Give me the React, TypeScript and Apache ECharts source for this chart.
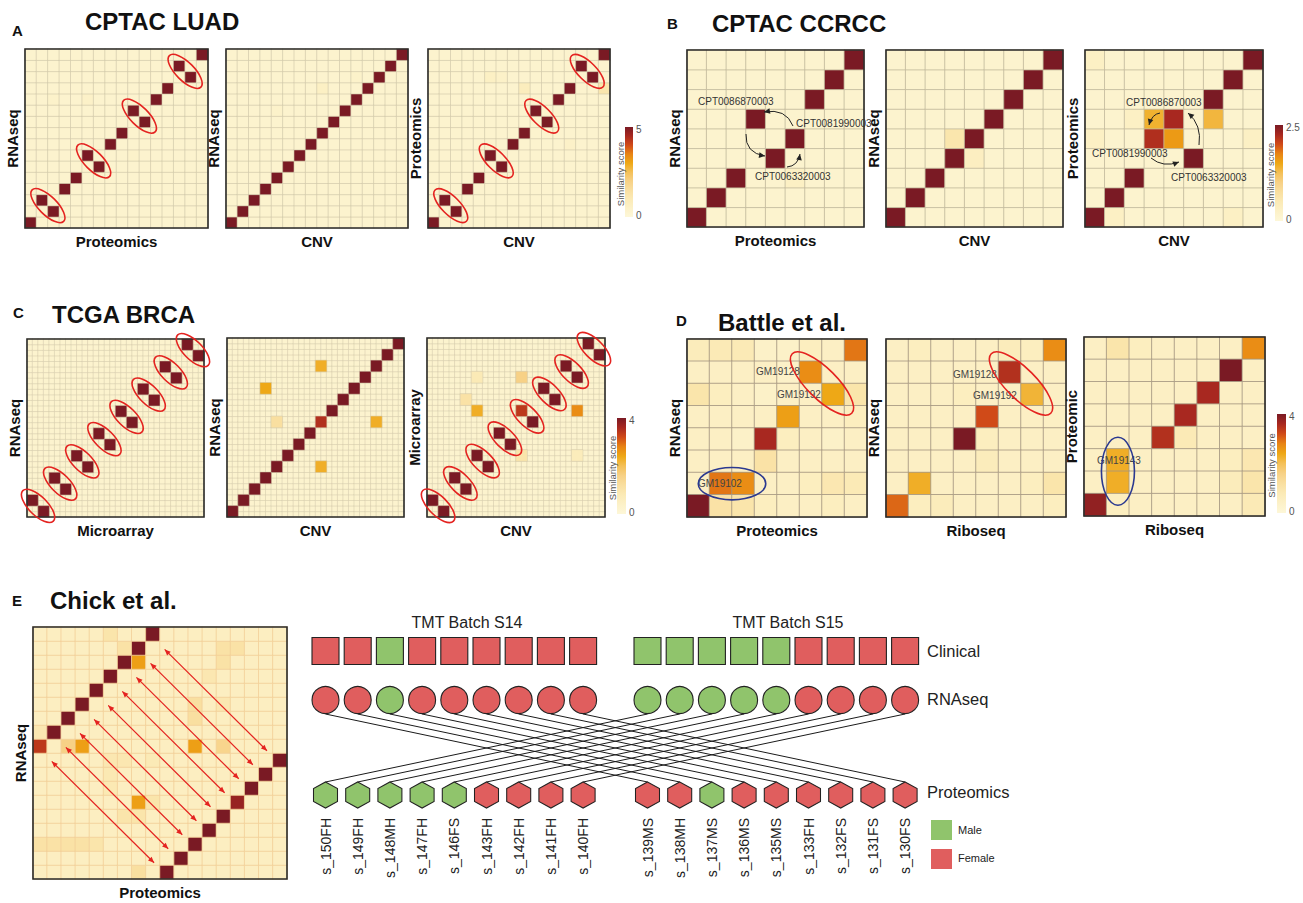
import React, { useEffect, useRef } from 'react';
import * as echarts from 'echarts';

const FONT = '"Liberation Sans", Arial, Helvetica, sans-serif';

// ---------- colour scale (low -> high similarity) ----------
const RAMP = ['#fdf7d8', '#fcf1c8', '#fbeab6', '#f9dfa0', '#f7d186', '#f4c058', '#eea816', '#e88414', '#d04a18', '#a82820', '#7a1a24'];

// ---------- Panel A: CPTAC LUAD (16 x 16, score 0..5) ----------
const A_MAX = 5;
const A_BG = 0.3;
const A1_DIAG = [0, 2, 1, 3, 4, 6, 5, 7, 8, 10, 9, 11, 12, 14, 13, 15];
const A2_DIAG = [0, 1, 2, 3, 4, 5, 6, 7, 8, 9, 10, 11, 12, 13, 14, 15];
const A3_DIAG = [0, 2, 1, 3, 4, 6, 5, 7, 8, 10, 9, 11, 12, 14, 13, 15];
const A1_EXTRA = [[5, 11, 0.5], [2, 11, 0.45], [9, 6, 0.45]];
const A2_EXTRA = [[8, 12, 0.6], [4, 10, 0.45], [11, 13, 0.45]];
const A3_EXTRA = [[15, 12, 1.2], [8, 12, 0.8], [5, 13, 0.6], [6, 13, 0.5], [12, 7, 0.5]];
const A_SWAPS = [1, 5, 9, 13];

// ---------- Panel B: CPTAC CCRCC (9 x 9, score 0..2.5) ----------
const B_MAX = 2.5;
const B_BG = 0.15;
const B1_DIAG = [0, 1, 2, 5, 3, 4, 6, 7, 8];
const B2_DIAG = [0, 1, 2, 3, 4, 5, 6, 7, 8];
const B3_DIAG = [0, 1, 2, 4, 5, 3, 6, 7, 8];
const B3_DIAG_VAL = [2.5, 2.5, 2.5, 2.2, 2.25, 2.5, 2.5, 2.5, 2.5];
const B1_EXTRA = [[5, 2, 0.3]];
const B2_EXTRA = [[3, 4, 0.6], [4, 3, 0.35]];
const B3_EXTRA = [[3, 5, 1.4], [4, 4, 1.6], [6, 5, 1.35], [0, 4, 0.3], [1, 0, 0.3], [2, 5, 0.3], [8, 4, 0.3], [7, 0, 0.3], [0, 8, 0.3]];

// ---------- Panel C: TCGA BRCA (16 x 16, score 0..4) ----------
const C_MAX = 4;
const C_BG = 0.25;
const C1_DIAG = [1, 0, 3, 2, 5, 4, 7, 6, 9, 8, 11, 10, 13, 12, 15, 14];
const C2_DIAG = [0, 1, 2, 3, 4, 5, 6, 7, 8, 9, 10, 11, 12, 13, 14, 15];
const C3_DIAG = [1, 0, 3, 2, 5, 4, 7, 6, 9, 8, 11, 10, 13, 12, 15, 14];
const C2_EXTRA = [[8, 13, 2.3], [3, 11, 2.4], [4, 8, 1.2], [8, 8, 3.5], [13, 8, 2.3], [8, 4, 2.3]];
const C3_EXTRA = [[4, 12, 0.8], [8, 12, 1.6], [3, 10, 1.1], [4, 9, 2.3], [8, 9, 3.4], [13, 9, 2.7], [8, 5, 1.0], [13, 5, 0.7]];
const C_SWAPS = [0, 2, 4, 6, 8, 10, 12, 14];

// ---------- Panel D: Battle et al. (8 x 8, score 0..4), rows listed top -> bottom ----------
const D_MAX = 4;
const D1_ROWS = [
  [0.7, 0.8, 0.8, 0.4, 0.4, 0.6, 0.5, 2.9],
  [0.5, 0.5, 0.5, 0.5, 0.4, 2.7, 0.5, 0.5],
  [1.0, 0.6, 0.5, 0.4, 0.5, 0.5, 2.4, 1.0],
  [0.5, 0.5, 0.5, 0.5, 2.5, 0.5, 0.5, 0.6],
  [0.5, 0.5, 0.4, 3.6, 0.6, 0.5, 0.4, 0.5],
  [0.5, 0.5, 0.5, 1.1, 0.5, 0.5, 0.5, 0.5],
  [0.5, 2.9, 2.7, 0.5, 0.5, 0.6, 0.9, 0.8],
  [4.0, 1.1, 1.0, 0.6, 0.5, 0.5, 0.6, 0.5],
];
const D2_ROWS = [
  [0.5, 0.6, 0.5, 0.5, 0.5, 0.7, 0.6, 2.7],
  [0.5, 0.5, 0.5, 0.5, 0.5, 3.5, 0.5, 0.5],
  [0.5, 0.5, 0.5, 0.6, 0.5, 0.5, 2.2, 0.5],
  [0.5, 0.5, 0.5, 0.5, 3.2, 0.5, 0.5, 0.5],
  [0.5, 0.5, 0.5, 4.0, 0.6, 0.5, 0.5, 0.5],
  [0.5, 0.5, 0.5, 0.5, 0.7, 0.5, 0.5, 0.5],
  [0.5, 2.3, 0.5, 0.5, 0.5, 0.5, 0.6, 1.0],
  [3.0, 0.6, 0.7, 0.5, 0.5, 0.5, 0.5, 0.6],
];
const D3_ROWS = [
  [0.5, 1.0, 0.6, 0.5, 0.5, 0.5, 0.5, 2.7],
  [0.5, 0.5, 0.5, 0.5, 0.5, 0.5, 4.0, 0.5],
  [0.5, 0.5, 0.5, 0.5, 0.5, 3.6, 0.5, 0.5],
  [0.5, 0.5, 0.5, 0.5, 3.6, 0.5, 0.5, 0.5],
  [0.5, 0.5, 0.5, 3.5, 0.8, 0.5, 0.5, 0.5],
  [0.5, 2.3, 0.5, 0.5, 0.5, 0.5, 0.6, 0.9],
  [0.5, 2.3, 0.5, 0.5, 0.5, 0.5, 0.7, 1.0],
  [3.8, 0.6, 0.5, 0.5, 0.5, 0.5, 0.5, 0.8],
];

// ---------- Panel E: Chick et al. (18 x 18, score 0..4) ----------
const E_MAX = 4;
const E_BG = 0.55;
const E_DIAG = [9, 10, 11, 12, 13, 14, 15, 16, 17, 0, 1, 2, 3, 4, 5, 6, 7, 8];
const E_DIAG_VAL = [3.4, 4, 4, 4, 4, 4, 4, 4, 4, 4, 4, 4, 4, 4, 3.75, 4, 4, 4];
const E_EXTRA = [
  [7, 15, 2.5], [3, 9, 2.5], [11, 9, 2.5], [2, 9, 1.6], [13, 9, 1.5], [7, 5, 2.5],
  [5, 17, 1.0], [6, 16, 1.1], [13, 16, 1.1], [14, 16, 1.1], [13, 15, 1.1], [11, 12, 1.2],
  [13, 12, 0.9], [11, 11, 1.2], [0, 10, 0.9], [5, 8, 0.9], [6, 8, 0.9], [5, 7, 0.85],
  [5, 6, 0.85], [8, 5, 1.0], [6, 4, 1.0], [7, 4, 1.0], [0, 2, 1.1], [1, 2, 1.1],
  [2, 2, 1.1], [3, 2, 1.1], [4, 2, 1.0], [7, 0, 1.2], [8, 8, 0.8], [12, 14, 0.9],
];

// ---------- Panel E: sample network ----------
const SAMPLES = ['s_150FH', 's_149FH', 's_148MH', 's_147FH', 's_146FS', 's_143FH', 's_142FH', 's_141FH', 's_140FH',
  's_139MS', 's_138MH', 's_137MS', 's_136MS', 's_135MS', 's_133FH', 's_132FS', 's_131FS', 's_130FS'];
const CLINICAL_SEX = ['F', 'F', 'M', 'F', 'F', 'F', 'F', 'F', 'F', 'M', 'M', 'M', 'M', 'M', 'F', 'F', 'F', 'F'];
const RNASEQ_SEX = ['F', 'F', 'M', 'F', 'F', 'F', 'F', 'F', 'F', 'M', 'M', 'M', 'M', 'M', 'F', 'F', 'F', 'F'];
const PROTEOMICS_SEX = ['M', 'M', 'M', 'M', 'M', 'F', 'F', 'F', 'F', 'F', 'F', 'M', 'F', 'F', 'F', 'F', 'F', 'F'];
const RNA_TO_PROT = [9, 10, 11, 12, 13, 14, 15, 16, 17, 0, 1, 2, 3, 4, 5, 6, 7, 8];
const BATCHES = ['TMT Batch S14', 'TMT Batch S15'];
const LAYERS = ['Clinical', 'RNAseq', 'Proteomics'];
const SEX_NAMES = ['Male', 'Female'];

// ---------- helpers ----------
type Cell = [number, number, number];
function buildSquare(n: number, bg: number, diag: number[], diagVal: number | number[], extras: number[][]): Cell[] {
  const m: number[][] = [];
  for (let c = 0; c < n; c++) { m.push([]); for (let r = 0; r < n; r++) m[c].push(bg); }
  diag.forEach((r, c) => { m[c][r] = Array.isArray(diagVal) ? diagVal[c] : diagVal; });
  extras.forEach(([c, r, v]) => { m[c][r] = v; });
  const out: Cell[] = [];
  for (let c = 0; c < n; c++) for (let r = 0; r < n; r++) out.push([c, r, m[c][r]]);
  return out;
}
function fromRowsTop(rows: number[][]): Cell[] {
  const n = rows.length;
  const out: Cell[] = [];
  rows.forEach((row, i) => row.forEach((v, c) => out.push([c, n - 1 - i, v])));
  return out;
}

interface Heat { g: [number, number, number, number]; n: number; data: Cell[]; vm: number; x: string; y: string; bc: string; bw: number; fineBg?: number; }

const HEAT: Heat[] = [
  { g: [25, 49, 183, 179], n: 16, data: buildSquare(16, A_BG, A1_DIAG, A_MAX, A1_EXTRA), vm: 0, x: 'Proteomics', y: 'RNAseq', bc: '#cfc6a8', bw: 0.6 },
  { g: [226, 49, 182, 179], n: 16, data: buildSquare(16, A_BG, A2_DIAG, A_MAX, A2_EXTRA), vm: 0, x: 'CNV', y: 'RNAseq', bc: '#cfc6a8', bw: 0.6 },
  { g: [428, 49, 182, 179], n: 16, data: buildSquare(16, A_BG, A3_DIAG, A_MAX, A3_EXTRA), vm: 0, x: 'CNV', y: 'Proteomics', bc: '#cfc6a8', bw: 0.6 },
  { g: [687, 50, 177, 177], n: 9, data: buildSquare(9, B_BG, B1_DIAG, B_MAX, B1_EXTRA), vm: 1, x: 'Proteomics', y: 'RNAseq', bc: '#c2b99c', bw: 0.8 },
  { g: [886, 50, 177, 177], n: 9, data: buildSquare(9, B_BG, B2_DIAG, B_MAX, B2_EXTRA), vm: 1, x: 'CNV', y: 'RNAseq', bc: '#c2b99c', bw: 0.8 },
  { g: [1085, 50, 178, 177], n: 9, data: buildSquare(9, B_BG, B3_DIAG, B3_DIAG_VAL, B3_EXTRA), vm: 1, x: 'CNV', y: 'Proteomics', bc: '#c2b99c', bw: 0.8 },
  { g: [27, 339, 177, 178], n: 16, data: buildSquare(16, C_BG, C1_DIAG, C_MAX, []), vm: 2, x: 'Microarray', y: 'RNAseq', bc: '#d2c9ab', bw: 0.5, fineBg: C_BG },
  { g: [227, 338, 177, 179], n: 16, data: buildSquare(16, C_BG, C2_DIAG, C_MAX, C2_EXTRA), vm: 2, x: 'CNV', y: 'RNAseq', bc: '#d2c9ab', bw: 0.5, fineBg: C_BG },
  { g: [427, 338, 178, 179], n: 16, data: buildSquare(16, C_BG, C3_DIAG, C_MAX, C3_EXTRA), vm: 2, x: 'CNV', y: 'Microarray', bc: '#d2c9ab', bw: 0.5, fineBg: C_BG },
  { g: [687, 339, 180, 178], n: 8, data: fromRowsTop(D1_ROWS), vm: 3, x: 'Proteomics', y: 'RNAseq', bc: '#a39680', bw: 0.8 },
  { g: [886, 339, 180, 178], n: 8, data: fromRowsTop(D2_ROWS), vm: 3, x: 'Riboseq', y: 'RNAseq', bc: '#a39680', bw: 0.8 },
  { g: [1084, 337, 181, 179], n: 8, data: fromRowsTop(D3_ROWS), vm: 3, x: 'Riboseq', y: 'Proteomic', bc: '#a39680', bw: 0.8 },
  { g: [33, 627, 254, 252], n: 18, data: buildSquare(18, E_BG, E_DIAG, E_DIAG_VAL, E_EXTRA), vm: 4, x: 'Proteomics', y: 'RNAseq', bc: '#f2cf98', bw: 0.8 },
];
const VM_MAX = [A_MAX, B_MAX, C_MAX, D_MAX, E_MAX];

const cellPt = (p: Heat, c: number, r: number) => ({
  x: p.g[0] + (c + 0.5) * p.g[2] / p.n,
  y: p.g[1] + p.g[3] - (r + 0.5) * p.g[3] / p.n,
});
const cw = (p: Heat) => p.g[2] / p.n;
const cats = (n: number) => Array.from({ length: n }, (_, k) => String(k));

function text(x: number, y: number, t: string, size: number, opts: any = {}) {
  return {
    type: 'text', x, y, rotation: opts.rot || 0, z: 120,
    style: {
      text: t, fontSize: size, fontFamily: FONT, fontWeight: opts.bold ? 'bold' : 'normal',
      fill: opts.color || '#111', align: opts.align || 'center', verticalAlign: 'middle',
    },
  };
}
function head(x: number, y: number, ang: number, color: string, len = 6, half = 2.6) {
  const bx = x - len * Math.cos(ang), by = y - len * Math.sin(ang);
  const nx = -Math.sin(ang) * half, ny = Math.cos(ang) * half;
  return { type: 'polygon', z: 121, shape: { points: [[x, y], [bx + nx, by + ny], [bx - nx, by - ny]] }, style: { fill: color } };
}
function curveArrow(x1: number, y1: number, cx: number, cy: number, x2: number, y2: number) {
  return [
    { type: 'bezierCurve', z: 121, shape: { x1, y1, x2, y2, cpx1: cx, cpy1: cy }, style: { stroke: '#222', lineWidth: 1, fill: 'none' } },
    head(x2, y2, Math.atan2(y2 - cy, x2 - cx), '#222', 6, 2.8),
  ];
}
function ellipse(x: number, y: number, rx: number, ry: number, rot: number, color: string) {
  return { type: 'ellipse', x, y, rotation: rot, z: 122, shape: { cx: 0, cy: 0, rx, ry }, style: { fill: 'none', stroke: color, lineWidth: 1.6 } };
}
function colorbar(x: number, y: number, w: number, h: number, top: string, tx: number) {
  const stops = RAMP.map((c, i) => ({ offset: 1 - i / (RAMP.length - 1), color: c }));
  return [
    { type: 'rect', z: 110, shape: { x, y, width: w, height: h }, style: { fill: new echarts.graphic.LinearGradient(0, 0, 0, 1, stops.reverse()) } },
    text(x + w + 3, y + 2, top, 10, { align: 'left', color: '#555' }),
    text(x + w + 3, y + h - 2, '0', 10, { align: 'left', color: '#555' }),
    text(tx, y + h / 2 + 2, 'Similarity score', 9.5, { rot: Math.PI / 2, color: '#555' }),
  ];
}

function buildOption() {
  const grids: any[] = [];
  const xAxis: any[] = [];
  const yAxis: any[] = [];
  const series: any[] = [];
  const vmSeries: number[][] = VM_MAX.map(() => []);

  HEAT.forEach(p => {
    const gi = grids.length;
    grids.push({ left: p.g[0], top: p.g[1], width: p.g[2], height: p.g[3], show: false });
    xAxis.push({ type: 'category', gridIndex: gi, data: cats(p.n), show: false });
    yAxis.push({ type: 'category', gridIndex: gi, data: cats(p.n), show: false });
    let data = p.data;
    if (p.fineBg !== undefined) {
      // finer background mesh (half-cell grid lines) drawn beneath the score cells
      const fi = grids.length;
      const m = p.n * 2;
      grids.push({ left: p.g[0], top: p.g[1], width: p.g[2], height: p.g[3], show: false });
      xAxis.push({ type: 'category', gridIndex: fi, data: cats(m), show: false });
      yAxis.push({ type: 'category', gridIndex: fi, data: cats(m), show: false });
      const bgData: Cell[] = [];
      for (let c = 0; c < m; c++) for (let r = 0; r < m; r++) bgData.push([c, r, p.fineBg]);
      vmSeries[p.vm].push(series.length);
      series.push({
        type: 'heatmap', xAxisIndex: fi, yAxisIndex: fi, data: bgData, silent: true, z: 1,
        itemStyle: { borderColor: p.bc, borderWidth: p.bw }, emphasis: { disabled: true },
      });
      data = p.data.filter(d => d[2] !== p.fineBg);
    }
    vmSeries[p.vm].push(series.length);
    series.push({
      type: 'heatmap', xAxisIndex: gi, yAxisIndex: gi, data, silent: true, z: 2,
      itemStyle: { borderColor: p.bc, borderWidth: p.bw }, emphasis: { disabled: true },
    });
  });
  const visualMap = VM_MAX.map((max, k) => ({
    type: 'continuous', show: false, min: 0, max, inRange: { color: RAMP }, seriesIndex: vmSeries[k],
  }));

  // ---- network (panel E right) ----
  const NG = grids.length;
  const catsNet = [...SAMPLES.slice(0, 9), '', ...SAMPLES.slice(9)];
  const catOf = (k: number) => (k < 9 ? k : k + 1);
  const LEVEL = [21, 70, 165];
  const sexColor = (s: string) => (s === 'M' ? '#90c46c' : '#e05e5e');
  grids.push({ left: 309.4, top: 630, width: 611.8, height: 182, show: false });
  xAxis.push({
    type: 'category', gridIndex: NG, data: catsNet, boundaryGap: true,
    axisLine: { show: false }, axisTick: { show: false }, splitLine: { show: false },
    axisLabel: { rotate: 90, interval: 0, fontSize: 14, color: '#222', margin: 6, fontFamily: FONT },
  });
  yAxis.push({ type: 'value', gridIndex: NG, min: 0, max: 182, inverse: true, show: false });
  series.push({
    type: 'lines', coordinateSystem: 'cartesian2d', xAxisIndex: NG, yAxisIndex: NG, z: 3, silent: true,
    lineStyle: { color: '#1a1a1a', width: 1, opacity: 1 },
    data: RNA_TO_PROT.map((pj, ri) => ({ coords: [[catOf(ri), LEVEL[1] + 14], [catOf(pj), LEVEL[2] - 13]] })),
  });
  const node = (sexes: string[], lvl: number, symbol: string, size: any) => ({
    type: 'scatter', xAxisIndex: NG, yAxisIndex: NG, symbol, symbolSize: size, z: 4, silent: true,
    itemStyle: { borderColor: '#222', borderWidth: 1.1, opacity: 1 },
    data: sexes.map((s, k) => ({ value: [catOf(k), LEVEL[lvl]], itemStyle: { color: sexColor(s) } })),
  });
  series.push(node(CLINICAL_SEX, 0, 'rect', 27));
  series.push(node(RNASEQ_SEX, 1, 'circle', 27));
  series.push(node(PROTEOMICS_SEX, 2, 'path://M12,0 L24,6.5 L24,19.5 L12,26 L0,19.5 L0,6.5 Z', [24, 26]));

  // ---- graphics ----
  const g: any[] = [];
  HEAT.forEach(p => {
    const [l, t, w, h] = p.g;
    g.push({ type: 'rect', z: 115, shape: { x: l, y: t, width: w, height: h }, style: { fill: 'none', stroke: '#2a2a2a', lineWidth: 1.6 } });
    g.push(text(l + w / 2, t + h + 13, p.x, 15, { bold: true }));
    g.push(text(l - 13, t + h / 2, p.y, 15, { bold: true, rot: Math.PI / 2 }));
  });
  const titles: [string, number, number, string, number, number][] = [
    ['A', 12, 30, 'CPTAC LUAD', 85, 21],
    ['B', 667, 23, 'CPTAC CCRCC', 712, 23],
    ['C', 13, 312, 'TCGA BRCA', 52, 314],
    ['D', 676, 320, 'Battle et al.', 718, 322],
    ['E', 12, 600, 'Chick et al.', 50, 600],
  ];
  titles.forEach(([L, lx, ly, T, tx, ty]) => {
    g.push(text(lx, ly, L, 15, { bold: true, align: 'left' }));
    g.push(text(tx, ty, T, 24, { bold: true, align: 'left' }));
  });
  g.push(...colorbar(625, 127, 8, 90, '5', 620));
  g.push(...colorbar(1275, 125, 8, 96, '2.5', 1270));
  g.push(...colorbar(617, 418, 9, 96, '4', 612));
  g.push(...colorbar(1277, 414, 9, 99, '4', 1271));

  const pairEllipses = (p: Heat, diag: number[], starts: number[], a: number, b: number) => {
    starts.forEach(c => {
      const p1 = cellPt(p, c, diag[c]);
      const p2 = cellPt(p, c + 1, diag[c + 1]);
      g.push(ellipse((p1.x + p2.x) / 2, (p1.y + p2.y) / 2, a * cw(p), b * cw(p), -Math.PI / 4, '#e42320'));
    });
  };
  pairEllipses(HEAT[0], A1_DIAG, A_SWAPS, 1.95, 0.8);
  pairEllipses(HEAT[2], A3_DIAG, A_SWAPS, 1.95, 0.8);
  pairEllipses(HEAT[6], C1_DIAG, C_SWAPS, 1.95, 0.85);
  pairEllipses(HEAT[8], C3_DIAG, C_SWAPS, 1.95, 0.85);

  g.push(text(698, 101.5, 'CPT0086870003', 10, { align: 'left', color: '#333' }));
  g.push(text(796, 123, 'CPT0081990003', 10, { align: 'left', color: '#333' }));
  g.push(text(755, 176, 'CPT0063320003', 10, { align: 'left', color: '#333' }));
  g.push(...curveArrow(793, 126, 786, 108, 764, 112));
  g.push(...curveArrow(746, 134, 745, 153, 765, 156));
  g.push(...curveArrow(787, 167, 798, 166, 800, 154));
  g.push(text(1126, 102, 'CPT0086870003', 10, { align: 'left', color: '#333' }));
  g.push(text(1092, 153, 'CPT0081990003', 10, { align: 'left', color: '#333' }));
  g.push(text(1171, 177, 'CPT0063320003', 10, { align: 'left', color: '#333' }));
  g.push(...curveArrow(1160, 113, 1152, 114, 1149, 125));
  g.push(...curveArrow(1199, 145, 1202, 125, 1188, 113));
  g.push(...curveArrow(1151, 158, 1163, 168, 1179, 162));

  const D1 = HEAT[9], D2 = HEAT[10], D3 = HEAT[11];
  [D1, D2].forEach(p => {
    const a = cellPt(p, 5, 6), b = cellPt(p, 6, 5);
    g.push(ellipse((a.x + b.x) / 2, (a.y + b.y) / 2, 1.87 * cw(p), 0.67 * cw(p), -Math.PI / 4, '#e42320'));
  });
  {
    const a = cellPt(D1, 1, 1), b = cellPt(D1, 2, 1);
    g.push(ellipse((a.x + b.x) / 2, a.y, 1.5 * cw(D1), 0.72 * cw(D1), 0, '#2b3990'));
    const c = cellPt(D3, 1, 1), d = cellPt(D3, 1, 2);
    g.push(ellipse(c.x, (c.y + d.y) / 2, 0.73 * cw(D3), 1.5 * cw(D3), 0, '#2b3990'));
  }
  g.push(text(756, 371, 'GM19128', 10, { align: 'left', color: '#444' }));
  g.push(text(777, 394, 'GM19192', 10, { align: 'left', color: '#444' }));
  g.push(text(698, 483, 'GM19102', 10, { align: 'left', color: '#444' }));
  g.push(text(953, 374, 'GM19128', 10, { align: 'left', color: '#444' }));
  g.push(text(973, 395, 'GM19192', 10, { align: 'left', color: '#444' }));
  g.push(text(1097, 460, 'GM19143', 10, { align: 'left', color: '#444' }));

  const E = HEAT[12];
  const ex = (c: number) => E.g[0] + c * E.g[2] / E.n;
  const ey = (rTop: number) => E.g[1] + rTop * E.g[3] / E.n;
  for (let k = 0; k < 9; k++) {
    const x1 = ex(1.33 + k), y1 = ey(9.6 - k), x2 = ex(8.58 + k), y2 = ey(16.84 - k);
    const ang = Math.atan2(y2 - y1, x2 - x1);
    g.push({ type: 'line', z: 121, shape: { x1, y1, x2, y2 }, style: { stroke: '#e42320', lineWidth: 1.2 } });
    g.push(head(x2, y2, ang, '#e42320', 6, 2.6));
    g.push(head(x1, y1, ang + Math.PI, '#e42320', 6, 2.6));
  }

  g.push(text(467, 622, BATCHES[0], 16, { color: '#222' }));
  g.push(text(788, 622, BATCHES[1], 16, { color: '#222' }));
  g.push(text(927, 651, LAYERS[0], 16.5, { align: 'left', color: '#222' }));
  g.push(text(927, 699, LAYERS[1], 16.5, { align: 'left', color: '#222' }));
  g.push(text(927, 792, LAYERS[2], 16.5, { align: 'left', color: '#222' }));
  g.push({ type: 'rect', z: 110, shape: { x: 931, y: 820, width: 21, height: 20 }, style: { fill: '#90c46c' } });
  g.push({ type: 'rect', z: 110, shape: { x: 931, y: 849, width: 21, height: 20 }, style: { fill: '#e05e5e' } });
  g.push(text(958, 830, SEX_NAMES[0], 11, { align: 'left', color: '#222' }));
  g.push(text(958, 858, SEX_NAMES[1], 11, { align: 'left', color: '#222' }));

  return {
    animation: false,
    backgroundColor: '#ffffff',
    textStyle: { fontFamily: FONT },
    grid: grids, xAxis, yAxis, visualMap, series,
    graphic: { elements: g },
  };
}

export default function App() {
  const ref = useRef<HTMLDivElement>(null);
  useEffect(() => {
    const chart = echarts.init(ref.current!, null, { renderer: 'svg' });
    chart.setOption(buildOption() as any);
    return () => chart.dispose();
  }, []);
  return <div ref={ref} style={{ position: 'absolute', left: 0, top: 0, width: 1303, height: 903, background: '#fff' }} />;
}
